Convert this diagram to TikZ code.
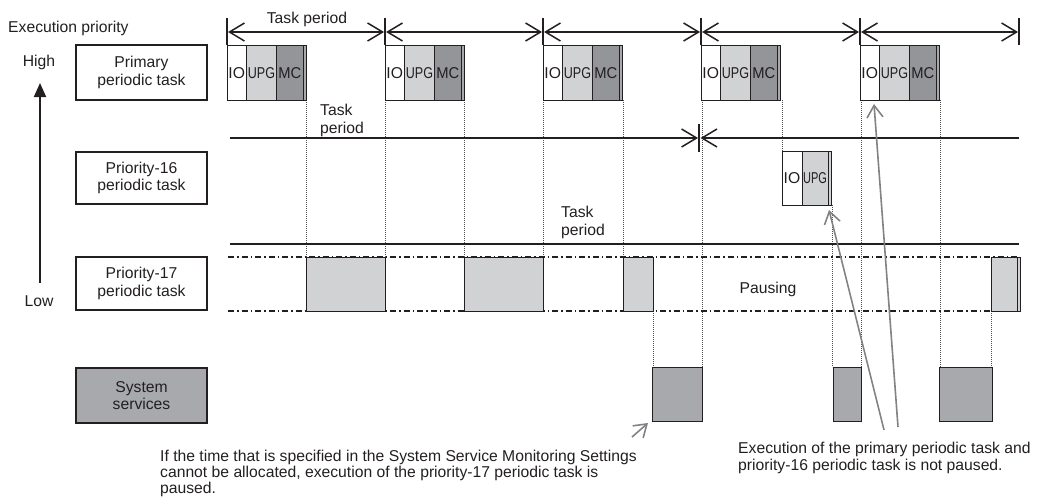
\documentclass[tikz,border=0pt]{standalone}
\usepackage{fontspec}
\usepackage{graphicx}
\setmainfont{Liberation Sans}
\usetikzlibrary{arrows.meta}
\definecolor{ink}{HTML}{231F20}
\definecolor{lg}{HTML}{D1D2D4}
\definecolor{mg}{HTML}{939598}
\definecolor{sg}{HTML}{A7A9AC}
\definecolor{callout}{HTML}{808285}
\tikzset{
  every node/.style={inner sep=0pt, text=ink},
  txt/.style={font=\fontsize{15.7}{17.5}\selectfont},
  cell/.style={draw=ink, line width=1pt},
  lblbox/.style={draw=ink, line width=1.1pt, minimum width=131pt, align=center, txt},
  tline/.style={draw=ink, line width=1.5pt},
  dotline/.style={draw=ink!80, line width=0.8pt, dash pattern=on 0.8pt off 1.2pt},
  dashdot/.style={draw=ink, line width=1.1pt, dash pattern=on 6pt off 3pt on 1.5pt off 3pt},
  barb/.tip={Straight Barb[length=15pt,width=18pt]},
  cbarb/.tip={Straight Barb[length=12pt,width=16pt]},
  callline/.style={draw=callout, line width=1.6pt, -cbarb},
}
\begin{document}
\begin{tikzpicture}[x=1pt,y=-1pt]
\useasboundingbox (0,0) rectangle (1043,498);

% ---- left axis ----
\node[txt, anchor=base west] (execprio) at (8,32) {Execution priority};
\node[txt, anchor=base] (high) at (39,66) {High};
\node[txt, anchor=base] (low) at (39,306) {Low};
\coordinate (axbot) at (40,283);
\coordinate (axtop) at (40,83);
\draw[line width=2pt, draw=ink, -{Triangle[length=14pt,width=12pt]}] (axbot) -- (axtop);

% ---- label boxes ----
\node[lblbox, minimum height=55pt] (primary) at (141.5,72.5) {Primary\\periodic task};
\node[lblbox, minimum height=52pt] (p16) at (141.5,178) {Priority-16\\periodic task};
\node[lblbox, minimum height=53pt] (p17) at (141.5,283.5) {Priority-17\\periodic task};
\node[lblbox, minimum height=55pt, fill=sg] (sys) at (141.5,395.5) {System\\services};

% ---- dotted guide lines ----
\foreach \x/\ya/\yb in {306/100/257, 385/100/257, 464/100/257, 543/100/257, 623/100/257,
  653/311/367, 702/100/367, 782/100/151, 832/205/367, 861/100/367, 940/100/367, 991/311/367}
  \draw[dotline] (\x,\ya) -- (\x,\yb);

% ---- top task period ticks and arrows ----
\foreach \i/\x in {1/227, 2/385, 3/543, 4/701, 5/860, 6/1019}{
  \coordinate (tk\i) at (\x,32);
  \draw[tline] (\x,18) -- (\x,45);
}
\foreach \i/\j in {1/2, 2/3, 3/4, 4/5, 5/6}
  \draw[tline, barb-barb] ([xshift=1pt]tk\i) -- ([xshift=-1pt]tk\j);
\node[txt, anchor=base] (tp1) at (307,23.5) {Task period};

% ---- priority-16 timeline ----
\coordinate (l16a) at (230,138);
\coordinate (l16m) at (699,138);
\coordinate (l16b) at (1019,138);
\draw[tline, -barb] (l16a) -- ([xshift=-1pt]l16m);
\draw[tline, barb-] ([xshift=1.5pt]l16m) -- (l16b);
\draw[tline] (699,124) -- (699,152);
\node[txt, anchor=west, align=left] (tp2) at (320,120.5) {Task\\period};

% ---- priority-17 timeline ----
\coordinate (l17a) at (230,244);
\coordinate (l17b) at (1019,244);
\draw[tline] (l17a) -- (l17b);
\node[txt, anchor=west, align=left] (tp3) at (561,222.5) {Task\\period};
\draw[dashdot] (228,257) -- (1019,257);
\draw[dashdot] (228,311) -- (1019,311);

% ---- primary periodic task blocks ----
\foreach \x in {227,385,543,701,860}{
  \draw[cell, fill=white] (\x,45) rectangle ({\x+19.5},100);
  \draw[cell, fill=lg] ({\x+19.5},45) rectangle ({\x+49.5},100);
  \draw[cell, fill=mg] ({\x+49.5},45) rectangle ({\x+76},100);
  \draw[cell, fill=sg] ({\x+76},45) rectangle ({\x+79.5},100);
  \node[txt] at ({\x+9.75},73.5) {IO};
  \node[txt] at ({\x+34.5},73.5) {\scalebox{0.8}[1]{UPG}};
  \node[txt] at ({\x+62.75},73.5) {\scalebox{0.94}[1]{MC}};
}

% ---- priority-16 block ----
\draw[cell, fill=white] (782,151) rectangle (802,205);
\draw[cell, fill=lg] (802,151) rectangle (828,205);
\draw[cell, fill=lg] (828,151) rectangle (831,205);
\node[txt] (p16io) at (792,178.5) {IO};
\node[txt] (p16upg) at (815,178.5) {\scalebox{0.7}[1]{UPG}};
\coordinate (p16tip) at (829,210);

% ---- priority-17 blocks ----
\draw[cell, fill=lg] (306,257) rectangle (385,311);
\draw[cell, fill=lg] (464,257) rectangle (543,311);
\draw[cell, fill=lg] (623,257) rectangle (653,311);
\draw[cell, fill=lg] (991,257) rectangle (1017,311);
\draw[cell, fill=lg] (1017,257) rectangle (1020,311);
\node[txt, anchor=base] (pausing) at (768,293) {Pausing};

% ---- system service blocks ----
\draw[cell, fill=sg] (652,367) rectangle (702,421);
\draw[cell, fill=sg] (833,367) rectangle (861,421);
\draw[cell, fill=sg] (939,367) rectangle (992,421);

% ---- notes ----
\node[txt, font=\fontsize{15.7}{16.3}\selectfont, anchor=north west, align=left] (note1) at (160,449.6)
  {If the time that is specified in the System Service Monitoring Settings\\cannot be allocated, execution of the priority-17 periodic task is\\paused.};
\node[txt, anchor=north west, align=left] (note2) at (738,441.6)
  {Execution of the primary periodic task and\\priority-16 periodic task is not paused.};

% ---- callouts ----
\coordinate (c1a) at (632,437);
\coordinate (c1b) at (648,423);
\draw[callline] (c1a) -- (c1b);
\coordinate (c2a) at (884,430);
\draw[callline] (c2a) -- (p16tip);
\coordinate (c3a) at (898,427);
\coordinate (c3b) at (874,104);
\draw[callline] (c3a) -- (c3b);
\end{tikzpicture}
\end{document}
